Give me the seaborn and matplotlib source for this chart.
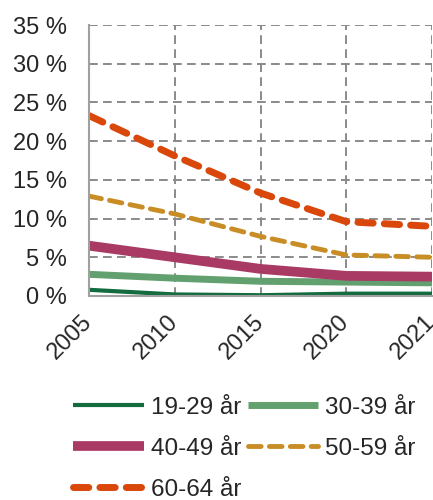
import matplotlib
matplotlib.use('Agg')
import matplotlib.pyplot as plt
import seaborn as sns
import pandas as pd

years = ['2005', '2010', '2015', '2020', '2021']
groups = ['19-29 år', '30-39 år', '40-49 år', '50-59 år', '60-64 år']
values = {
    '19-29 år': [0.8, 0.2, 0.1, 0.3, 0.3],
    '30-39 år': [2.8, 2.3, 1.9, 1.8, 1.7],
    '40-49 år': [6.5, 5.0, 3.5, 2.6, 2.5],
    '50-59 år': [12.9, 10.6, 7.7, 5.3, 5.0],
    '60-64 år': [23.3, 18.1, 13.3, 9.6, 9.0],
}
colors = ['#136b3f', '#62a06f', '#a83a64', '#c98d25', '#d9480a']
widths = [3, 5, 7, 3.5, 5]
styles = ['-', '-', '-', (0, (2.6, 1.7)), (0, (2.2, 1.6))]

rows = []
for g in groups:
    for i, y in enumerate(years):
        rows.append({'pos': i, 'year': y, 'group': g, 'value': values[g][i]})
df = pd.DataFrame(rows)

sns.set_theme(style='white')
plt.rcParams['font.family'] = ['Liberation Sans', 'DejaVu Sans']

fig = plt.figure(figsize=(4.33, 5), dpi=100)
ax = fig.add_axes([89 / 433, 1 - 296 / 500, (432 - 89) / 433, (296 - 25) / 500])

for g, c, w, s in zip(groups, colors, widths, styles):
    sns.lineplot(data=df[df['group'] == g], x='pos', y='value', color=c,
                 linewidth=w, linestyle=s, label=g, ax=ax,
                 solid_capstyle='butt', dash_capstyle='round', legend=False)

ax.set_xlim(0, 4)
ax.set_ylim(0, 35)
ax.set_xticks(range(len(years)))
ax.set_xticklabels(years, rotation=45, ha='right', va='center', rotation_mode='anchor')
ax.set_yticks(range(0, 36, 5))
ax.set_yticklabels([f'{v} %' for v in range(0, 36, 5)])
ax.tick_params(axis='both', labelsize=17, length=0)
ax.tick_params(axis='y', pad=16)
ax.tick_params(axis='x', pad=16)
ax.set_xlabel('')
ax.set_ylabel('')
ax.grid(True, color='#8a8a8a', linestyle=(0, (4.5, 2.7)), linewidth=1.4)
ax.set_axisbelow(True)
for side in ['top', 'right']:
    ax.spines[side].set_visible(False)
for side in ['left', 'bottom']:
    ax.spines[side].set_color('#a0a0a0')
    ax.spines[side].set_linewidth(1.5)

# legend filled row by row
handles, labels = ax.get_legend_handles_labels()
order = [0, 2, 4, 1, 3]
fig.legend([handles[i] for i in order], [labels[i] for i in order], ncol=2,
           loc='upper center', bbox_to_anchor=(0.565, 0.25), frameon=False,
           fontsize=17.5, handlelength=2.9, handletextpad=0.3,
           columnspacing=0.25, labelspacing=0.78)

fig.savefig('out.png', dpi=100)
